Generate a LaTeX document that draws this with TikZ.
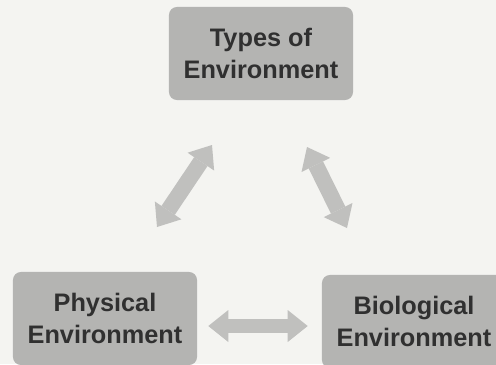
\documentclass[tikz,border=0pt]{standalone}
\usepackage{fontspec}
\setmainfont{Liberation Sans}
\usetikzlibrary{arrows.meta}

\definecolor{page}{RGB}{244,244,241}
\definecolor{boxgray}{RGB}{180,180,178}
\definecolor{arrgray}{RGB}{192,192,190}
\definecolor{ink}{RGB}{48,48,48}

\begin{document}
\begin{tikzpicture}[
  x=0.025cm, y=-0.025cm,
  envbox/.style={fill=boxgray, rounded corners=0.2cm, minimum width=4.6cm, minimum height=2.325cm,
    align=center, inner sep=0pt, text=ink, font=\fontsize{18}{22.5}\selectfont\bfseries},
  dblarr/.style={draw=arrgray, line width=0.4cm,
    {Triangle[length=0.5cm, width=0.8cm, line width=0pt]}-{Triangle[length=0.5cm, width=0.8cm, line width=0pt]}}
]
\useasboundingbox (0,0) rectangle (496,364);
\fill[page] (0,0) rectangle (496,364);

% ---------- Boxes ----------
\node[envbox] (types) at (261,53.5) {Types of\\Environment};
\node[envbox] (phys)  at (105,318.5) {Physical\\Environment};
\node[envbox] (bio)   at (414,321.5) {Biological\\Environment};

% ---------- Arrow ends ----------
\coordinate (physup)  at (157,227);
\coordinate (typesl)  at (212,145);
\coordinate (typesr)  at (307,147);
\coordinate (bioup)   at (347,228);

% ---------- Arrows ----------
\draw[dblarr] (physup) -- (typesl);
\draw[dblarr] (typesr) -- (bioup);
\draw[dblarr, line width=0.35cm] ([xshift=0.275cm]phys.east |- 0,326) -- ([xshift=-0.35cm]bio.west |- 0,326);
\end{tikzpicture}
\end{document}
